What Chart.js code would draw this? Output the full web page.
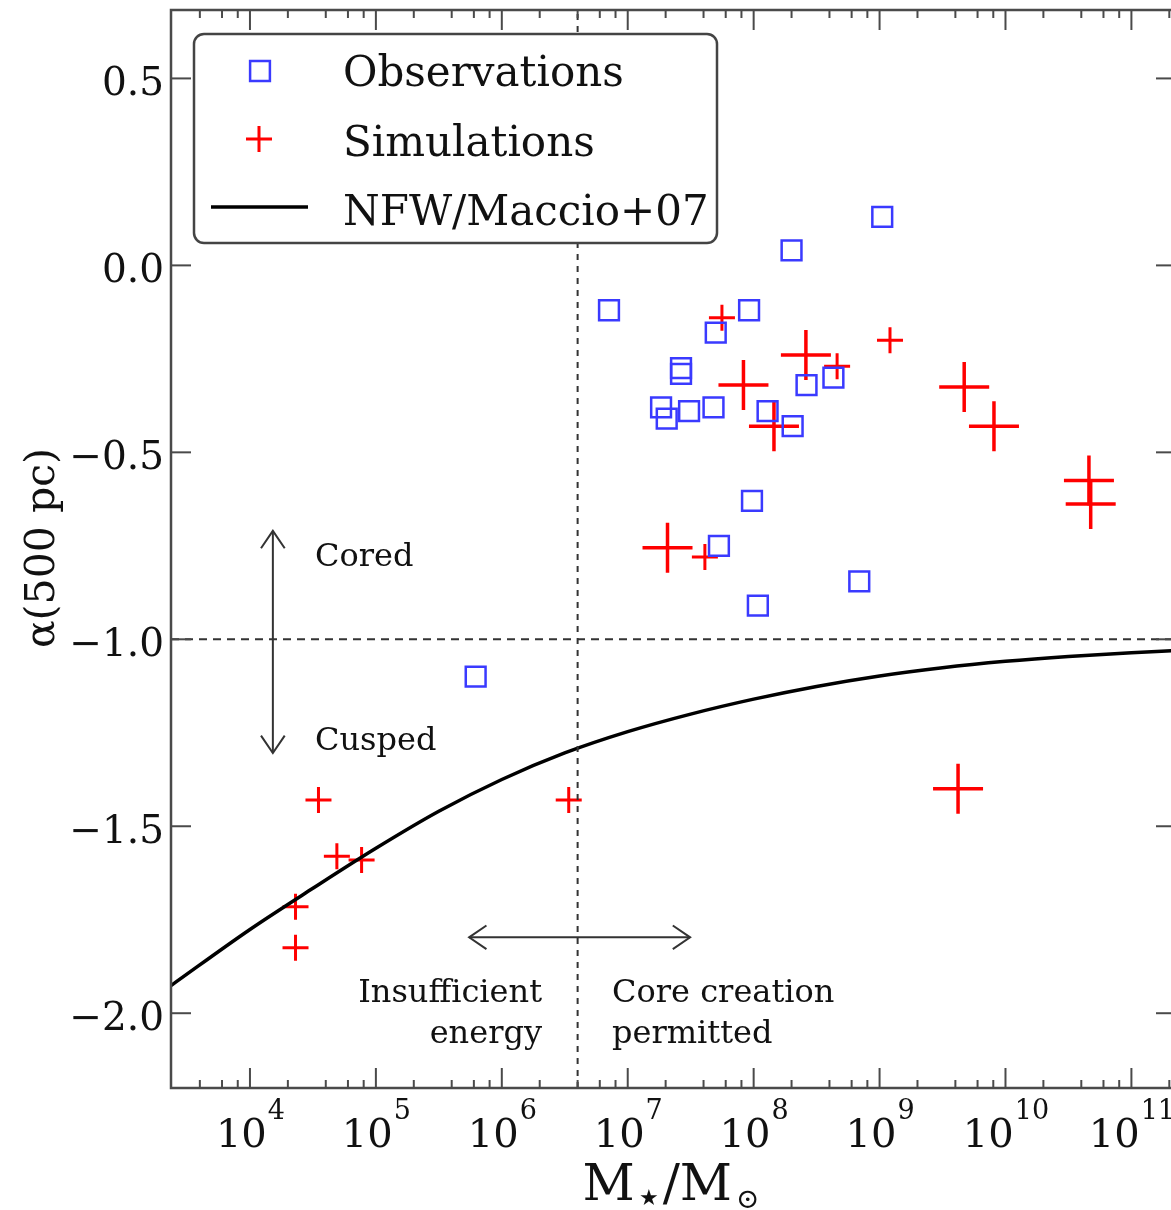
<!DOCTYPE html>
<html>
<head>
<meta charset="utf-8">
<script src="https://cdn.jsdelivr.net/npm/chart.js@4.4.1/dist/chart.umd.min.js"></script>
<style>
  html, body { margin: 0; padding: 0; background: #fff; overflow: hidden; }
  #wrap { position: relative; width: 1190px; height: 1210px; }
</style>
</head>
<body>
<div id="wrap"><canvas id="chart" width="1190" height="1210"></canvas></div>
<script>
// stellar mass (Msun) vs inner dark matter slope alpha at 500 pc
const obsMass  = [1.05e9, 2.0e8, 7.1e6, 9.2e7, 5.0e7, 2.65e7, 2.65e7, 1.84e7, 2.04e7, 3.07e7, 4.8e7, 1.29e8, 2.04e8, 2.63e8, 4.3e8, 9.7e7, 5.3e7, 6.9e8, 1.08e8, 6.2e5]
const obsSlope = [0.13, 0.04, -0.12, -0.12, -0.18, -0.275, -0.29, -0.38, -0.41, -0.39, -0.38, -0.39, -0.43, -0.32, -0.30, -0.63, -0.75, -0.845, -0.91, -1.10]

// simulations, lower resolution runs (small crosses)
const simMass  = [5.6e7, 1.21e9, 4.6e8, 4.1e7, 3.5e4, 4.9e4, 7.7e4, 3.4e6, 2.3e4, 2.3e4]
const simSlope = [-0.14, -0.20, -0.27, -0.78, -1.43, -1.58, -1.59, -1.43, -1.715, -1.825]

// simulations, higher resolution runs (large crosses)
const simBigMass  = [8.3e7, 2.6e8, 1.45e8, 2.07e7, 4.7e9, 8.1e9, 4.6e10, 4.75e10, 4.2e9]
const simBigSlope = [-0.32, -0.24, -0.43, -0.755, -0.325, -0.43, -0.575, -0.638, -1.40]

// NFW / Maccio+07 relation
const nfwMass  = [2.36e3, 1e4, 3.16e4, 1e5, 3.16e5, 1e6, 3.16e6, 1e7, 3.16e7, 1e8, 3.16e8, 1e9, 3.16e9, 1e10, 3.16e10, 1e11, 2.3e11]
const nfwSlope = [-1.926, -1.776, -1.666, -1.559, -1.460, -1.375, -1.304, -1.247, -1.200, -1.160, -1.126, -1.098, -1.076, -1.059, -1.046, -1.036, -1.030]

const coreThresholdMass = 4.0e6
const coredCuspedSlope = -1.0

const xRange = [2.36e3, 2.26e11]
const yRange = [-2.2, 0.683]
const xTickExponents = [4, 5, 6, 7, 8, 9, 10, 11]
const xMinorMult = [2, 4, 6, 8]
const yTicks = [0.5, 0.0, -0.5, -1.0, -1.5, -2.0]
const yTickLabels = ["0.5", "0.0", "\u22120.5", "\u22121.0", "\u22121.5", "\u22122.0"]

const toPts = (xs, ys) => xs.map((x, i) => ({ x, y: ys[i] }))

const SERIF = '"DejaVu Serif", serif'
const BLUE = "#3a3aff"
const RED = "#ff0000"

const frame = {
  id: "frame",
  afterDraw(chart) {
    const { ctx, chartArea: a, scales } = chart
    const x = scales.x, y = scales.y
    const line = (x1, y1, x2, y2) => { ctx.beginPath(); ctx.moveTo(x1, y1); ctx.lineTo(x2, y2); ctx.stroke() }
    ctx.save()

    // axes box
    ctx.strokeStyle = "#4a4a4a"
    ctx.lineWidth = 2.5
    ctx.strokeRect(a.left, a.top, a.right - a.left, a.bottom - a.top)

    // inward ticks
    ctx.lineWidth = 2
    for (let e = 3; e <= 11; e++) {
      xMinorMult.forEach(m => {
        const v = m * Math.pow(10, e)
        if (v < xRange[0] || v > xRange[1]) return
        const px = x.getPixelForValue(v)
        line(px, a.bottom, px, a.bottom - 8)
        line(px, a.top, px, a.top + 8)
      })
    }
    xTickExponents.forEach(e => {
      const px = x.getPixelForValue(Math.pow(10, e))
      line(px, a.bottom, px, a.bottom - 20)
      line(px, a.top, px, a.top + 20)
    })
    yTicks.forEach(v => {
      const py = y.getPixelForValue(v)
      line(a.left, py, a.left + 20, py)
      line(a.right, py, a.right - 20, py)
    })

    // tick labels
    ctx.fillStyle = "#111"
    ctx.textBaseline = "alphabetic"
    xTickExponents.forEach(e => {
      const px = x.getPixelForValue(Math.pow(10, e))
      ctx.font = "40px " + SERIF
      const wb = ctx.measureText("10").width
      ctx.font = "27px " + SERIF
      const ws = ctx.measureText(String(e)).width
      const start = px - (wb + ws) / 2
      ctx.textAlign = "left"
      ctx.font = "40px " + SERIF
      ctx.fillText("10", start, a.bottom + 59)
      ctx.font = "27px " + SERIF
      ctx.fillText(String(e), start + wb + 1, a.bottom + 31)
    })
    ctx.font = "39px " + SERIF
    ctx.textAlign = "right"
    yTicks.forEach((v, i) => {
      ctx.fillText(yTickLabels[i], a.left - 7, y.getPixelForValue(v) + 17)
    })

    // axis titles
    ctx.save()
    ctx.translate(54, 548)
    ctx.rotate(-Math.PI / 2)
    ctx.textAlign = "center"
    ctx.font = "41px " + SERIF
    ctx.fillText("\u03b1(500 pc)", 0, 0)
    ctx.restore()

    const parts = [["M", 51, 0], ["\u2605", 22, 5], ["/M", 51, 0], ["\u2299", 28, 8]]
    let total = 0
    parts.forEach(p => { ctx.font = p[1] + "px " + SERIF; total += ctx.measureText(p[0]).width + 4 })
    let cx = 673 - total / 2
    ctx.textAlign = "left"
    parts.forEach(p => {
      ctx.font = p[1] + "px " + SERIF
      ctx.fillText(p[0], cx, 1200 + p[2])
      cx += ctx.measureText(p[0]).width + 4
    })

    // annotations
    const arrow = (x1, y1, x2, y2) => {
      ctx.strokeStyle = "#333"
      ctx.lineWidth = 2
      line(x1, y1, x2, y2)
      const ang = Math.atan2(y2 - y1, x2 - x1)
      ;[[x1, y1, ang + Math.PI], [x2, y2, ang]].forEach(([hx, hy, t]) => {
        ctx.beginPath()
        ctx.moveTo(hx - 21 * Math.cos(t - 0.6), hy - 21 * Math.sin(t - 0.6))
        ctx.lineTo(hx, hy)
        ctx.lineTo(hx - 21 * Math.cos(t + 0.6), hy - 21 * Math.sin(t + 0.6))
        ctx.stroke()
      })
    }
    const ax = x.getPixelForValue(1.52e4)
    arrow(ax, y.getPixelForValue(-0.71), ax, y.getPixelForValue(-1.304))
    const ay = y.getPixelForValue(-1.797)
    arrow(x.getPixelForValue(5.5e5), ay, x.getPixelForValue(3.13e7), ay)

    ctx.fillStyle = "#111"
    ctx.font = "32px " + SERIF
    ctx.textAlign = "left"
    ctx.fillText("Cored", 315, 566)
    ctx.fillText("Cusped", 315, 750)
    ctx.fillText("Core creation", 612, 1002)
    ctx.fillText("permitted", 612, 1043)
    ctx.textAlign = "right"
    ctx.fillText("Insufficient", 542, 1002)
    ctx.fillText("energy", 542, 1043)

    // legend
    ctx.beginPath()
    ctx.roundRect(194, 34, 523, 209, 10)
    ctx.fillStyle = "#fff"
    ctx.fill()
    ctx.strokeStyle = "#444"
    ctx.lineWidth = 2.5
    ctx.stroke()

    ctx.fillStyle = "rgba(0,0,0,0)"
    ctx.strokeStyle = BLUE
    ctx.lineWidth = 2.5
    Chart.helpers.drawPoint(ctx, { pointStyle: "rect", radius: 14, borderWidth: 2.5 }, 260, 71)
    ctx.strokeStyle = RED
    ctx.lineWidth = 3
    Chart.helpers.drawPoint(ctx, { pointStyle: "cross", radius: 13, borderWidth: 3 }, 259, 139)
    ctx.strokeStyle = "#000"
    ctx.lineWidth = 3.5
    line(211, 207, 308, 207)

    ctx.fillStyle = "#111"
    ctx.textAlign = "left"
    ctx.font = "42px " + SERIF
    ctx.fillText("Observations", 343, 86)
    ctx.fillText("Simulations", 343, 156)
    ctx.fillText("NFW/Maccio+07", 343, 225)

    ctx.restore()
  }
}

new Chart(document.getElementById("chart"), {
  type: "scatter",
  data: {
    datasets: [
      {
        label: "cored/cusped",
        data: toPts(xRange, [coredCuspedSlope, coredCuspedSlope]),
        showLine: true, pointRadius: 0,
        borderColor: "#333", borderWidth: 2, borderDash: [8, 6]
      },
      {
        label: "energy threshold",
        data: toPts([coreThresholdMass, coreThresholdMass], yRange),
        showLine: true, pointRadius: 0,
        borderColor: "#333", borderWidth: 2, borderDash: [6, 6]
      },
      {
        label: "NFW/Maccio+07",
        data: toPts(nfwMass, nfwSlope),
        showLine: true, pointRadius: 0,
        borderColor: "#000", borderWidth: 3.5,
        cubicInterpolationMode: "monotone"
      },
      {
        label: "Observations",
        data: toPts(obsMass, obsSlope),
        pointStyle: "rect", pointRadius: 14,
        borderColor: BLUE, backgroundColor: "rgba(0,0,0,0)", borderWidth: 2.5
      },
      {
        label: "Simulations",
        data: toPts(simMass, simSlope),
        pointStyle: "cross", pointRadius: 13,
        borderColor: RED, borderWidth: 3
      },
      {
        label: "Simulations (hi-res)",
        data: toPts(simBigMass, simBigSlope),
        pointStyle: "cross", pointRadius: 25,
        borderColor: RED, borderWidth: 3.5
      }
    ]
  },
  options: {
    responsive: false,
    animation: false,
    events: [],
    layout: { autoPadding: false, padding: { left: 171, top: 10, right: 14, bottom: 122 } },
    plugins: { legend: { display: false }, tooltip: { enabled: false } },
    scales: {
      x: { type: "logarithmic", min: xRange[0], max: xRange[1], display: false },
      y: { type: "linear", min: yRange[0], max: yRange[1], display: false }
    }
  },
  plugins: [frame]
})
</script>
</body>
</html>
